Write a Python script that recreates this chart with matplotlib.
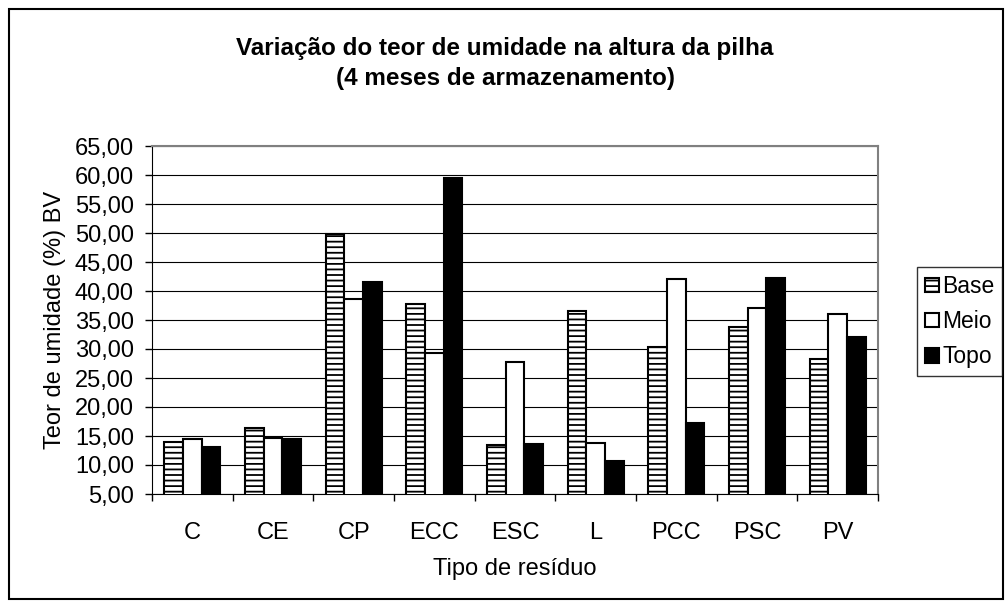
import numpy as np
import matplotlib
matplotlib.use("Agg")
from matplotlib import pyplot as plt
from matplotlib.patches import Rectangle
from matplotlib.ticker import FuncFormatter

plt.rcParams['font.family'] = ['Liberation Sans', 'DejaVu Sans']
plt.rcParams['hatch.color'] = '#808080'
plt.rcParams['hatch.linewidth'] = 1.3

categories = ["C", "CE", "CP", "ECC", "ESC", "L", "PCC", "PSC", "PV"]
base = [13.9, 16.4, 49.9, 37.7, 13.4, 36.6, 30.3, 33.8, 28.2]
meio = [14.5, 14.6, 38.7, 29.3, 27.8, 13.8, 42.1, 37.0, 36.1]
topo = [13.1, 14.4, 41.6, 59.4, 13.6, 10.7, 17.2, 42.3, 32.1]
yticks = np.arange(5, 66, 5)

W, H = 1005, 608
fig = plt.figure(figsize=(W / 100, H / 100), dpi=100)
# plot area in pixels: left 152, right 878, top 146, bottom 494
ax = fig.add_axes([152 / W, 1 - 494 / H, (878 - 152) / W, (494 - 146) / H])

x = np.arange(len(categories))
w = 0.232
ax.bar(x - w, base, w, bottom=0, color='white', edgecolor='black', hatch='---',
       linewidth=1.5, label='Base', zorder=3)
ax.bar(x, meio, w, color='white', edgecolor='black', linewidth=1.5, label='Meio', zorder=3)
ax.bar(x + w, topo, w, color='black', edgecolor='black', linewidth=1.5, label='Topo', zorder=3)

ax.set_xlim(-0.5, len(categories) - 0.5)
ax.set_ylim(5, 65)
ax.set_yticks(yticks)
ax.yaxis.set_major_formatter(FuncFormatter(lambda v, p: f"{v:.2f}".replace('.', ',')))
ax.yaxis.grid(True, color='black', linewidth=0.8, zorder=0)
ax.set_axisbelow(True)

ax.set_xticks(x)
ax.set_xticklabels(categories)
ax.set_xticks(np.arange(-0.5, len(categories), 1), minor=True)
ax.tick_params(axis='x', which='major', length=0, labelsize=17, pad=20)
ax.tick_params(axis='x', which='minor', length=5, width=1, direction='out')
ax.tick_params(axis='y', length=5, width=1, direction='out', labelsize=17, pad=8)

for s in ['top', 'right']:
    ax.spines[s].set_color('#808080')
    ax.spines[s].set_linewidth(1.5)
ax.spines['left'].set_color('black')
ax.spines['bottom'].set_color('black')

ax.set_xlabel("Tipo de resíduo", fontsize=17, labelpad=10)
ax.set_ylabel("Teor de umidade (%) BV", fontsize=17, labelpad=6)

fig.text(505 / W, 1 - 48 / H, "Variação do teor de umidade na altura da pilha",
         ha='center', va='center', fontsize=17.5, fontweight='bold')
fig.text(505 / W, 1 - 79 / H, "(4 meses de armazenamento)",
         ha='center', va='center', fontsize=17.5, fontweight='bold')

leg = fig.legend(loc='upper left', bbox_to_anchor=(917 / W, 1 - 267 / H),
                 frameon=True, fancybox=False, fontsize=16.5, handlelength=0.6,
                 handleheight=0.6, handletextpad=0.15, borderpad=0.35,
                 labelspacing=0.53, borderaxespad=0)
leg.get_frame().set_edgecolor('black')
leg.get_frame().set_linewidth(1)

fig.patches.append(Rectangle((9 / W, 9 / H), (W - 11) / W, (H - 18) / H,
                             transform=fig.transFigure, fill=False,
                             edgecolor='black', linewidth=1.5))

fig.savefig("out.png", dpi=100)
